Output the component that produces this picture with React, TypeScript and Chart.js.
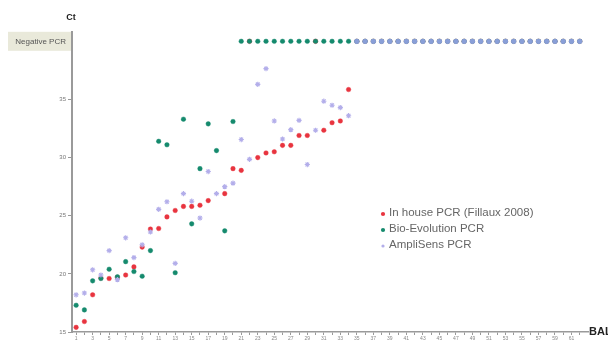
import React, { useEffect, useRef } from "react";
import { Chart, registerables } from "chart.js";

Chart.register(...registerables);

// BAL sample numbers (x categories)
const balSamples = [
  1, 2, 3, 4, 5, 6, 7, 8, 9, 10, 11, 12, 13, 14, 15, 16, 17, 18, 19, 20,
  21, 22, 23, 24, 25, 26, 27, 28, 29, 30, 31, 32, 33, 34, 35, 36, 37, 38, 39, 40,
  41, 42, 43, 44, 45, 46, 47, 48, 49, 50, 51, 52, 53, 54, 55, 56, 57, 58, 59, 60,
  61, 62,
];

// Ct value used for the "Negative PCR" row
const NEG = 40;
const yTickValues = [15, 20, 25, 30, 35, 40];
const yTickLabels = ["15", "20", "25", "30", "35", "Negative PCR"];

const seriesNames = ["In house PCR (Fillaux 2008)", "Bio-Evolution PCR", "AmpliSens PCR"];

const inHouse: (number | null)[] = [
  15.4, 15.9, 18.2, 19.65, 19.6, 19.7, 19.9, 20.6, 22.3, 23.85,
  23.9, 24.9, 25.45, 25.8, 25.8, 25.9, 26.3, null, 26.9, 29.05,
  28.9, 40, 30.0, 30.4, 30.5, 31.05, 31.05, 31.9, 31.9, 40,
  32.35, 33.0, 33.15, 35.85, 40, 40, 40, 40, 40, 40,
  40, 40, 40, 40, 40, 40, 40, 40, 40, 40,
  40, 40, 40, 40, 40, 40, 40, 40, 40, 40,
  40, 40,
];

const bioEvolution: (number | null)[] = [
  17.3, 16.9, 19.4, 19.6, 20.4, 19.75, 21.05, 20.2, 19.8, 22.0,
  31.4, 31.1, 20.1, 33.3, 24.3, 29.05, 32.9, 30.6, 23.7, 33.1,
  40, 40, 40, 40, 40, 40, 40, 40, 40, 40,
  40, 40, 40, 40, 40, 40, 40, 40, 40, 40,
  40, 40, 40, 40, 40, 40, 40, 40, 40, 40,
  40, 40, 40, 40, 40, 40, 40, 40, 40, 40,
  40, 40,
];

const ampliSens: (number | null)[] = [
  18.2, 18.35, 20.35, 19.9, 22.0, 19.5, 23.1, 21.4, 22.5, 23.6,
  25.55, 26.2, 20.9, 26.9, 26.25, 24.8, 28.8, 26.9, 27.5, 27.8,
  31.55, 29.85, 36.3, 37.65, 33.15, 31.6, 32.4, 33.2, 29.4, 32.35,
  34.85, 34.5, 34.3, 33.6, 40, 40, 40, 40, 40, 40,
  40, 40, 40, 40, 40, 40, 40, 40, 40, 40,
  40, 40, 40, 40, 40, 40, 40, 40, 40, 40,
  40, 40,
];

const RED = "#e8343f";
const GREEN = "#158a6d";
const LAVENDER = "#b3aeea";
const NEG_BLUE = "#8a9fd8";

const toPoints = (vals: (number | null)[]) =>
  balSamples.map((b, i) => ({ x: b, y: vals[i] }));

const decorPlugin = {
  id: "decor",
  beforeDraw(chart: any) {
    const { ctx, chartArea, scales } = chart;
    const y = scales.y.getPixelForValue(NEG);
    ctx.save();
    ctx.fillStyle = "#e9e9da";
    ctx.fillRect(8, y - 9.5, chartArea.left - 8, 19);
    ctx.restore();
  },
  afterDraw(chart: any) {
    const { ctx, chartArea } = chart;
    ctx.save();
    ctx.fillStyle = "#222";
    ctx.font = "bold 9px 'Liberation Sans', Arial, sans-serif";
    ctx.textAlign = "center";
    ctx.textBaseline = "middle";
    ctx.fillText("Ct", chartArea.left - 1, 18);
    ctx.font = "bold 11px 'Liberation Sans', Arial, sans-serif";
    ctx.textAlign = "left";
    ctx.fillText("BAL", chartArea.right + 1, chartArea.bottom);

    // legend
    const colors = [RED, GREEN, LAVENDER];
    const lx = 383;
    const ly = [213, 229, 245];
    ctx.font = "11.5px 'Liberation Sans', Arial, sans-serif";
    ctx.textBaseline = "middle";
    seriesNames.forEach((name, i) => {
      ctx.fillStyle = colors[i];
      ctx.beginPath();
      ctx.arc(lx, ly[i] + 1, i === 2 ? 1.6 : 2.1, 0, Math.PI * 2);
      ctx.fill();
      ctx.fillStyle = "#666";
      ctx.fillText(name, lx + 6, ly[i]);
    });
    ctx.restore();
  },
};

export default function App() {
  const ref = useRef<HTMLCanvasElement>(null);

  useEffect(() => {
    if (!ref.current) return;
    const chart = new Chart(ref.current, {
      type: "scatter",
      data: {
        datasets: [
          {
            label: seriesNames[0],
            data: toPoints(inHouse),
            backgroundColor: RED,
            borderColor: "rgba(232,52,63,0.5)",
            pointRadius: 2.3,
            pointBorderWidth: 0.8,
            order: 3,
          },
          {
            label: seriesNames[1],
            data: toPoints(bioEvolution),
            backgroundColor: GREEN,
            borderColor: "rgba(21,138,109,0.5)",
            pointRadius: 2.3,
            pointBorderWidth: 0.8,
            order: 2,
          },
          {
            label: seriesNames[2],
            data: toPoints(ampliSens),
            backgroundColor: (c: any) => (c.raw && c.raw.y === NEG ? NEG_BLUE : LAVENDER),
            borderColor: (c: any) => (c.raw && c.raw.y === NEG ? NEG_BLUE : LAVENDER),
            pointStyle: (c: any) => (c.raw && c.raw.y === NEG ? "circle" : "star"),
            pointRadius: (c: any) => (c.raw && c.raw.y === NEG ? 2.1 : 2.6),
            pointBorderWidth: 1.1,
            order: 1,
          },
        ],
      },
      options: {
        animation: false,
        responsive: true,
        maintainAspectRatio: false,
        layout: { padding: { top: 32, right: 20, left: 0, bottom: 0 } },
        plugins: {
          legend: { display: false },
          tooltip: { enabled: false },
        },
        scales: {
          x: {
            type: "linear",
            min: 0.5,
            max: 63,
            afterBuildTicks: (scale: any) => {
              scale.ticks = balSamples.map((v) => ({ value: v }));
            },
            afterFit: (scale: any) => {
              scale.height = 9;
            },
            ticks: {
              autoSkip: false,
              maxRotation: 0,
              padding: 1,
              color: "#888",
              font: { size: 5, family: "'Liberation Sans', Arial, sans-serif" },
              callback: (value: any) => (Number(value) % 2 === 1 ? String(value) : ""),
            },
            grid: {
              drawOnChartArea: false,
              drawTicks: true,
              tickLength: 3,
              color: "#999",
            },
            border: { display: true, color: "#9a9a9a", width: 1.5 },
          },
          y: {
            type: "linear",
            min: 15,
            max: 40.8,
            afterBuildTicks: (scale: any) => {
              scale.ticks = yTickValues.map((v) => ({ value: v }));
            },
            afterFit: (scale: any) => {
              scale.width = 72;
            },
            ticks: {
              padding: 2,
              color: (c: any) => (c.tick && c.tick.value === NEG ? "#555" : "#777"),
              font: (c: any) => ({
                size: c.tick && c.tick.value === NEG ? 8 : 6,
                family: "'Liberation Sans', Arial, sans-serif",
              }),
              callback: (value: any) => {
                const i = yTickValues.indexOf(Number(value));
                return i >= 0 ? yTickLabels[i] : "";
              },
            },
            grid: {
              drawOnChartArea: false,
              drawTicks: true,
              tickLength: 4,
              color: (c: any) => (c.tick && c.tick.value === NEG ? "rgba(0,0,0,0)" : "#999"),
            },
            border: { display: true, color: "#9a9a9a", width: 2 },
          },
        },
      },
      plugins: [decorPlugin],
    });
    return () => chart.destroy();
  }, []);

  return (
    <div style={{ position: "fixed", left: 0, top: 0, width: 608, height: 341, background: "#fff" }}>
      <canvas ref={ref} />
    </div>
  );
}
